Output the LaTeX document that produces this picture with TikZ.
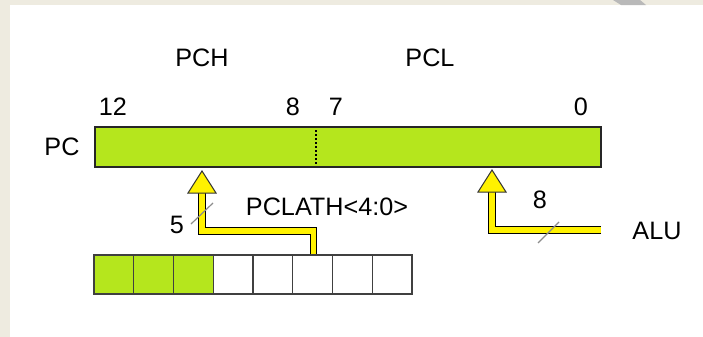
\documentclass[tikz,border=0pt]{standalone}
\usepackage{fontspec}
\setmainfont{Liberation Sans}
\usepackage{tikz}
\usetikzlibrary{positioning, calc}
\definecolor{regreen}{HTML}{B5E61D}
\definecolor{busyellow}{HTML}{FFF200}
\definecolor{slidebeige}{HTML}{EEEBE0}
\definecolor{slashgray}{HTML}{8C8C8C}

\begin{document}
\begin{tikzpicture}[
    x=0.5pt, y=-0.5pt,
    every node/.style={font=\fontsize{12.6}{14}\selectfont, inner sep=0pt},
    reg/.style={draw=black!85, fill=regreen, line width=0.7pt, minimum width=253pt, minimum height=20pt},
    cell/.style={draw=black!75, line width=0.7pt, minimum width=19.875pt, minimum height=19.5pt},
    bus/.style={draw=black, line width=0.5pt, double=busyellow, double distance=2.6pt},
    head/.style={fill=busyellow, draw=black!80, line width=0.5pt, line join=miter},
    slash/.style={slashgray, line width=0.6pt}
]
    % slide background
    \fill[slidebeige] (0,0) rectangle (703,337);
    \fill[white] (10,5) rectangle (703,337);
    \fill[gray!55] (613,0) -- (640,0) -- (646,5) -- (621,5) -- cycle;

    % program counter
    \node[reg] (pc) at (348,147) {};
    \draw[dash pattern=on 1pt off 1pt, line width=1pt] (316,130) -- (316,164);
    \node (pclbl) at (62,147) {PC};
    \node (pch) at (202,58) {PCH};
    \node (pcl) at (430,58) {PCL};
    \node (b12) at (113,107) {12};
    \node (b8) at (293,107) {8};
    \node (b7) at (336,107) {7};
    \node (b0) at (581,107) {0};

    % PCLATH register
    \foreach \i/\col in {0/regreen,1/regreen,2/regreen,3/white,4/white,5/white,6/white,7/white}
        \node[cell, fill=\col] (cell\i) at ({113.875+39.75*\i},274.5) {};
    \node (pclath) at (327,207) {PCLATH<4:0>};
    \node (alu) at (657,231) {ALU};

    % PCLATH -> PCH
    \coordinate (tip1) at (202,171);
    \coordinate (bend1) at (202,231);
    \draw[bus] (cell5.north east -| 313.5,0) |- (bend1) -- ($(tip1)+(0,21)$);
    \draw[head] (tip1) -- ++(14,22) -- ++(-28,0) -- cycle;
    \draw[slash] (191,224) -- (213,203);
    \node (w5) at (177,225) {5};

    % ALU -> PCL
    \coordinate (tip2) at (492,170);
    \coordinate (end2) at (601,230);
    \draw[bus] (end2) -| ($(tip2)+(0,21)$);
    \draw[head] (tip2) -- ++(14,22) -- ++(-28,0) -- cycle;
    \draw[slash] (538,243) -- (559,222);
    \node (w8) at (540,200) {8};
\end{tikzpicture}
\end{document}
